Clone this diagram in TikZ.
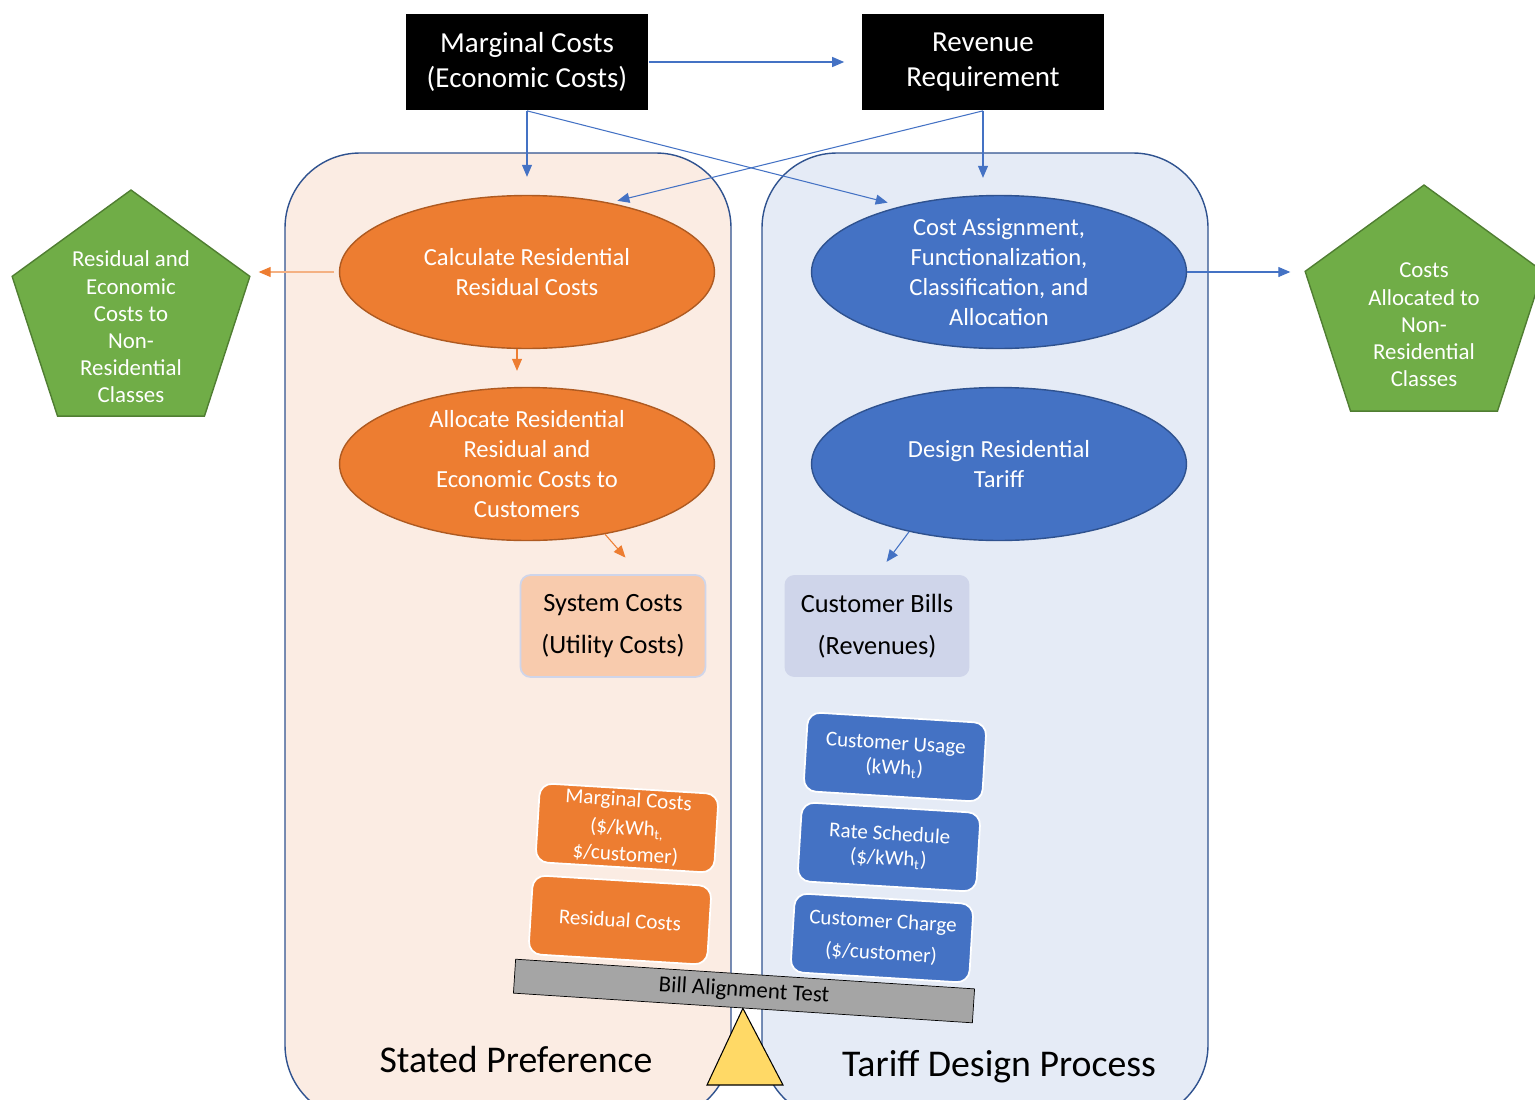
\documentclass[tikz,border=0pt]{standalone}
\usepackage{fontspec}
\setmainfont{Carlito}
\usetikzlibrary{shapes.geometric,arrows.meta,positioning}
\definecolor{orng}{HTML}{ED7D31}
\definecolor{orngdark}{HTML}{AE5A21}
\definecolor{ornglight}{HTML}{F4B183}
\definecolor{blu}{HTML}{4472C4}
\definecolor{bludark}{HTML}{2F528F}
\definecolor{grn}{HTML}{70AD47}
\definecolor{grndark}{HTML}{507E32}
\definecolor{peach}{HTML}{FBECE3}
\definecolor{paleblue}{HTML}{E5EBF6}
\definecolor{syscol}{HTML}{F8CBAD}
\definecolor{billcol}{HTML}{CFD5EA}
\definecolor{barcol}{HTML}{A5A5A5}
\definecolor{fulcrum}{HTML}{FFD966}
\begin{document}
\begin{tikzpicture}[x=0.02cm, y=-0.02cm,
  topbox/.style={fill=black, text=white, minimum width=4.86cm, minimum height=1.94cm, align=center, font=\fontsize{16.5}{20}\selectfont},
  oval/.style={ellipse, draw=#1dark, fill=#1, line width=0.8pt, minimum width=7.5cm, minimum height=3.06cm},
  ovaltext/.style={text=white, align=center, font=\fontsize{14}{17}\selectfont},
  pent/.style={regular polygon, regular polygon sides=5, draw=grndark, fill=grn, line width=0.8pt, minimum size=5cm, inner sep=0pt},
  penttext/.style={text=white, align=center, font=\fontsize{13}{15.5}\selectfont},
  result/.style={rounded corners=0.2cm, minimum width=3.7cm, minimum height=2.04cm, align=center, font=\fontsize{15}{24}\selectfont},
  chip/.style={fill=#1, draw=white, line width=1pt, rounded corners=0.25cm, rotate=-3.5, minimum width=3.58cm, minimum height=1.58cm, inner ysep=1pt, text=white, align=center, font=\fontsize{12}{14}\selectfont},
  barrow/.style={draw=blu, line width=0.6pt, -{Triangle[length=0.24cm, width=0.2cm]}},
  oarrow/.style={draw=orng, line width=0.6pt, -{Triangle[length=0.24cm, width=0.2cm, color=orng]}},
  panel/.style={draw=bludark, line width=0.8pt, rounded corners=1.5cm},
  caption/.style={font=\fontsize{21.5}{24}\selectfont}]
  \clip (0,0) rectangle (1535,1099);
  \draw[panel, fill=peach] (285,153) rectangle (731,1120);
  \draw[panel, fill=paleblue] (762,153) rectangle (1208,1120);

  \node[topbox] (mc) at (527,62) {Marginal Costs\\(Economic Costs)};
  \node[topbox] (rr) at (983,62) {Revenue\\Requirement};

  \node[oval=orng] (calcres) at (527,272) {};
  \node[ovaltext] (calcrestxt) at (calcres) {Calculate Residential\\Residual Costs};
  \node[oval=orng] (allocres) at (527,464) {};
  \node[ovaltext] (allocrestxt) at (allocres) {Allocate Residential\\Residual and\\Economic Costs to\\Customers};
  \node[oval=blu] (costassign) at (999,272) {};
  \node[ovaltext] (costassigntxt) at (costassign) {Cost Assignment,\\Functionalization,\\Classification, and\\Allocation};
  \node[oval=blu] (design) at (999,464) {};
  \node[ovaltext] (designtxt) at (design) {Design Residential\\Tariff};

  \node[pent] (resnonres) at (131,315) {};
  \node[penttext] (resnonrestxt) at (131,327) {Residual and\\Economic\\Costs to\\Non-\\Residential\\Classes};
  \node[pent] (costnonres) at (1424,310) {};
  \node[penttext] (costnonrestxt) at (1424,325) {Costs\\Allocated to\\Non-\\Residential\\Classes};

  \node[result, fill=syscol, draw=billcol, line width=1pt] (syscost) at (613,626) {System Costs\\(Utility Costs)};
  \node[result, fill=billcol] (custbills) at (877,626) {Customer Bills\\(Revenues)};

  \node[chip=orng] (mcchip) at (627,828) {Marginal Costs\\[2pt](\$/kWh\textsubscript{t,}\\[1pt]\$/customer)};
  \node[chip=orng] (reschip) at (620,920) {Residual Costs};
  \node[chip=blu] (usage) at (895,757) {Customer Usage\\(kWh\textsubscript{t})};
  \node[chip=blu] (rates) at (889,847) {Rate Schedule\\(\$/kWh\textsubscript{t})};
  \node[chip=blu] (charge) at (882,938) {Customer Charge\\[4pt](\$/customer)};

  \node[draw=black, fill=barcol, rotate=-3.7, minimum width=9.2cm, minimum height=0.68cm, inner sep=0pt, font=\fontsize{13}{15}\selectfont] (bat) at (744,991) {Bill Alignment Test};
  \draw[draw=black, fill=fulcrum, line width=0.6pt] (bat.south) -- (783,1085) -- (707,1085) -- cycle;

  \node[caption] (spl) at (516,1060) {Stated Preference};
  \node[caption] (tdp) at (999,1067) {Tariff Design Process};

  \draw[barrow, shorten >=0.34cm] (mc.east) -- (rr.west);
  \draw[barrow, shorten >=0.36cm] (mc.south) -- (calcres.north);
  \draw[barrow, shorten >=0.28cm] (mc.south) -- (costassign.146);
  \draw[barrow, shorten >=0.16cm] (rr.south) -- (calcres.40);
  \draw[barrow, shorten >=0.34cm] (rr.south) -- (rr.south |- costassign.north);
  \draw[oarrow, shorten >=0.32cm] ([xshift=-0.2cm]calcres.south) -- ([xshift=-0.2cm]allocres.north);
  \draw[oarrow, shorten >=0.44cm] (allocres.-42) -- ([xshift=0.54cm]syscost.north);
  \draw[barrow, shorten >=0.32cm] (design.217) -- (custbills.north);
  \draw[oarrow, draw=ornglight, shorten <=0.1cm, shorten >=0.16cm] (calcres.west) -- (calcres.west -| resnonres.corner 5);
  \draw[barrow, shorten >=0.28cm] (costassign.east) -- (costassign.east -| costnonres.corner 2);
\end{tikzpicture}
\end{document}
